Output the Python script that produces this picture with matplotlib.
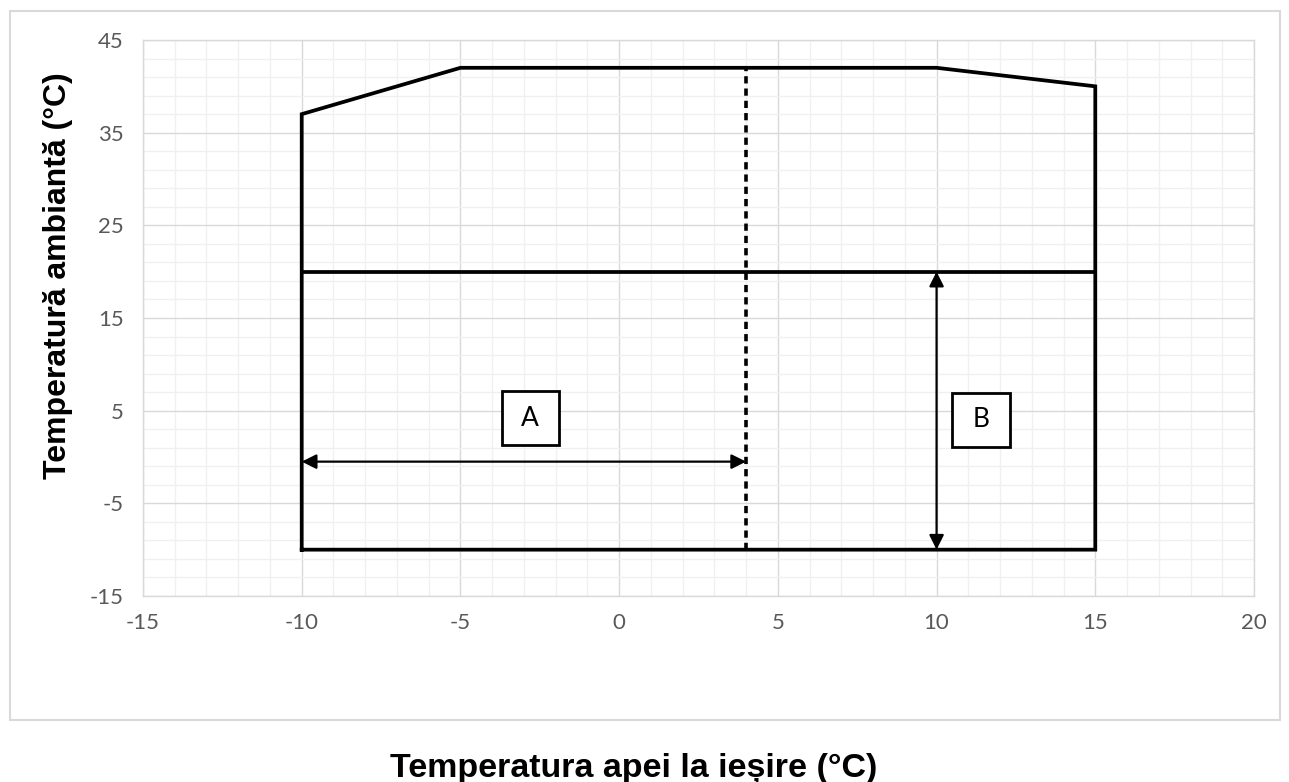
import numpy as np
import matplotlib
matplotlib.use('Agg')
import matplotlib.pyplot as plt
from matplotlib.patches import Rectangle

# Envelope of the operating range
env_x = [-10, -10, -5, 10, 15, 15, -10]
env_y = [-10, 37, 42, 42, 40, -10, -10]

# Inner lines
mid_line_x = [-10, 15]
mid_line_y = [20, 20]
dash_x = [4, 4]
dash_y = [-10, 42]

# Arrows (start, end)
arrow_a = ((-10, -0.5), (4, -0.5))
arrow_b = ((10, -10), (10, 20))

# Label boxes (centres)
labels = ['A', 'B']
label_pos = [(-2.8, 4.2), (11.4, 4.0)]

xticks = [-15, -10, -5, 0, 5, 10, 15, 20]
yticks = [-15, -5, 5, 15, 25, 35, 45]

W, H = 1289, 782
fig = plt.figure(figsize=(W/100, H/100), dpi=100)
ax = fig.add_axes([143/W, 1 - 596/H, (1254-143)/W, (596-40)/H])

ax.set_xlim(-15, 20)
ax.set_ylim(-15, 45)
ax.set_xticks(xticks)
ax.set_yticks(yticks)
ax.set_xticklabels([str(v) for v in xticks])
ax.set_yticklabels([str(v) for v in yticks])
ax.set_xticks(np.arange(-15, 21, 1), minor=True)
ax.set_yticks(np.arange(-15, 46, 2), minor=True)
ax.grid(True, which='major', color='#d9d9d9', linewidth=1.0)
ax.grid(True, which='minor', color='#f0f0f0', linewidth=1.0)
ax.set_axisbelow(True)
ax.tick_params(which='both', length=0)
ax.tick_params(axis='x', pad=12, labelsize=16, labelcolor='#595959')
ax.tick_params(axis='y', pad=14, labelsize=16, labelcolor='#595959')
for lab in ax.get_xticklabels() + ax.get_yticklabels():
    lab.set_family('Lato')
for s in ax.spines.values():
    s.set_color('#d9d9d9')
    s.set_linewidth(1.0)

ax.plot(env_x, env_y, color='black', linewidth=2.7, solid_joinstyle='miter')
ax.plot(mid_line_x, mid_line_y, color='black', linewidth=2.7)
ax.plot(dash_x, dash_y, color='black', linewidth=2.6, linestyle=(0, (2.0, 1.4)))

for (p0, p1) in [arrow_a, arrow_b]:
    ax.annotate('', xy=p1, xytext=p0,
                arrowprops=dict(arrowstyle='<|-|>', color='black', lw=1.6,
                                mutation_scale=22, shrinkA=0, shrinkB=0))

# box size in data units (about 57 x 54 px)
box_w, box_h = 1.80, 5.83
for txt, (lx, ly) in zip(labels, label_pos):
    ax.add_patch(Rectangle((lx - box_w/2, ly - box_h/2), box_w, box_h,
                           facecolor='white', edgecolor='black', linewidth=2.0, zorder=3))
    ax.text(lx, ly, txt, ha='center', va='center', fontsize=19, family='Lato', zorder=4)

fig.text(58/W, 1 - 276/H, 'Temperatură ambiantă (°C)', rotation=90, ha='center', va='center',
         fontsize=23, fontweight='bold', family='Liberation Sans')
fig.text(634/W, 1 - 768/H, 'Temperatura apei la ieșire (°C)', ha='center', va='center',
         fontsize=24.5, fontweight='bold', family='Liberation Sans')

# outer chart frame
fig.patches.append(Rectangle((10/W, 1 - 720/H), (1280-10)/W, (720-11)/H,
                             transform=fig.transFigure, fill=False, edgecolor='#d9d9d9', linewidth=1.5))

fig.savefig('out.png', dpi=100)
